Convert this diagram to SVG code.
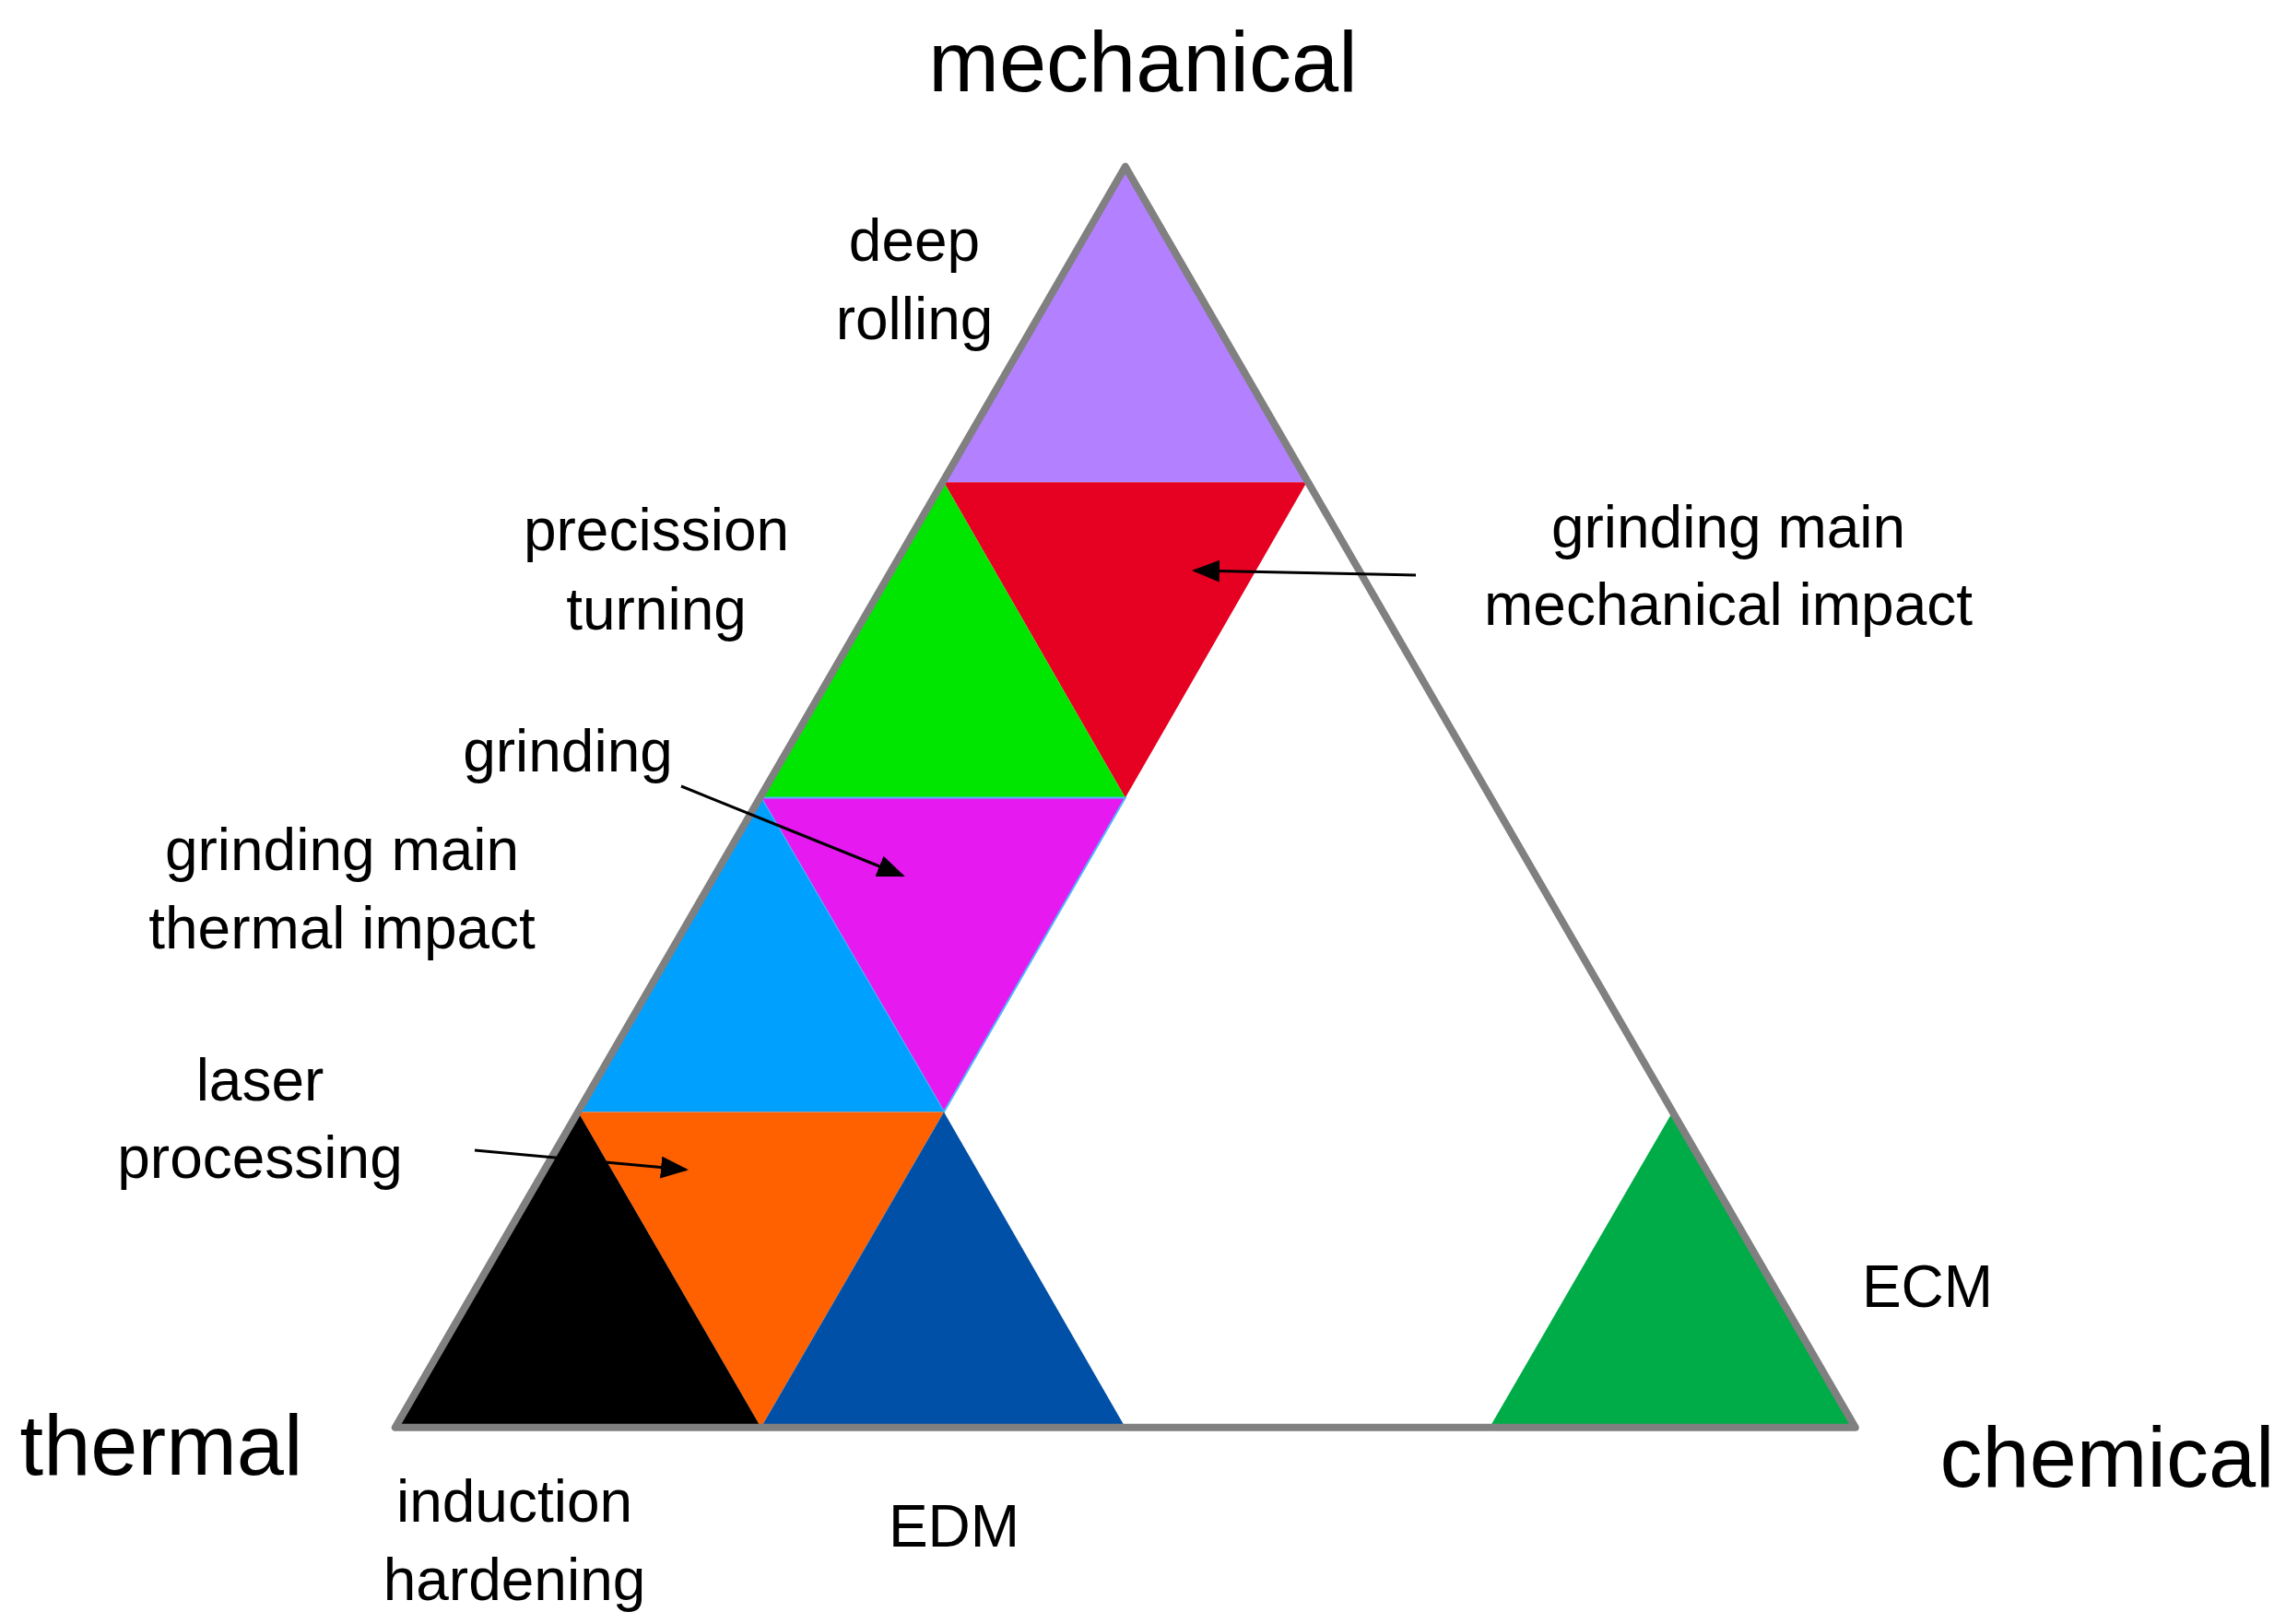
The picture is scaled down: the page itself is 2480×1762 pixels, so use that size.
<svg xmlns="http://www.w3.org/2000/svg" width="2480" height="1762" viewBox="0 0 2480 1762">
<style>
text{font-family:"Liberation Sans",Arial,sans-serif;fill:#000;text-anchor:middle}
.l{font-size:64px}
.t{font-size:92px}
.c{stroke:#000;stroke-width:3;fill:none;marker-end:url(#a)}
</style>
<defs><marker id="a" markerWidth="10" markerHeight="8" refX="9" refY="4" orient="auto" markerUnits="strokeWidth"><path d="M0,0L10,4L0,8Z" fill="#000"/></marker></defs>
<rect width="2480" height="1762" fill="#fff"/>
<g id="regions">
<polygon points="1220.8,180.8 1024,523.2 1417.6,523.2" fill="#b380ff"/>
<polygon points="1024,523.2 1417.6,523.2 1220.8,865.6" fill="#e60021"/>
<polygon points="1024,523.2 825.6,865.6 1220.8,865.6" fill="#00e600"/>
<polygon points="825.6,865.6 1220.8,865.6 1024,1206.4" fill="#e619f0" stroke="#4db8ff" stroke-width="2"/>
<polygon points="825.6,865.6 627.2,1206.4 1024,1206.4" fill="#00a0ff"/>
<polygon points="627.2,1206.4 1024,1206.4 825.6,1548.8" fill="#ff6000"/>
<polygon points="627.2,1206.4 428.8,1548.8 825.6,1548.8" fill="#000"/>
<polygon points="1024,1206.4 825.6,1548.8 1220.8,1548.8" fill="#0050a8"/>
<polygon points="1814.4,1206.4 1616,1548.8 2012.8,1548.8" fill="#00ac48"/>
</g>
<g id="outline"><polygon points="1220.8,180.8 428.8,1548.8 2012.8,1548.8" fill="none" stroke="#808080" stroke-width="8" stroke-linejoin="round"/></g>
<g id="connectors">
<line class="c" x1="1536" y1="624" x2="1296" y2="619"/>
<line class="c" x1="739" y1="853" x2="979" y2="950"/>
<line class="c" x1="515" y1="1248" x2="744" y2="1269"/>
</g>
<g id="labels">
<text class="t" x="1240" y="99">mechanical</text>
<text class="t" x="175" y="1600">thermal</text>
<text class="t" x="2286" y="1613">chemical</text>
<text class="l" x="992" y="283">deep</text><text class="l" x="992" y="368">rolling</text>
<text class="l" x="712" y="597">precission</text><text class="l" x="712" y="683">turning</text>
<text class="l" x="1875" y="594">grinding main</text><text class="l" x="1875" y="678">mechanical impact</text>
<text class="l" x="616" y="837">grinding</text>
<text class="l" x="371" y="944">grinding main</text><text class="l" x="371" y="1029">thermal impact</text>
<text class="l" x="282" y="1194">laser</text><text class="l" x="282" y="1278">processing</text>
<text class="l" x="2091" y="1418">ECM</text>
<text class="l" x="558" y="1651">induction</text><text class="l" x="558" y="1736">hardening</text>
<text class="l" x="1035" y="1678">EDM</text>
</g>
</svg>
